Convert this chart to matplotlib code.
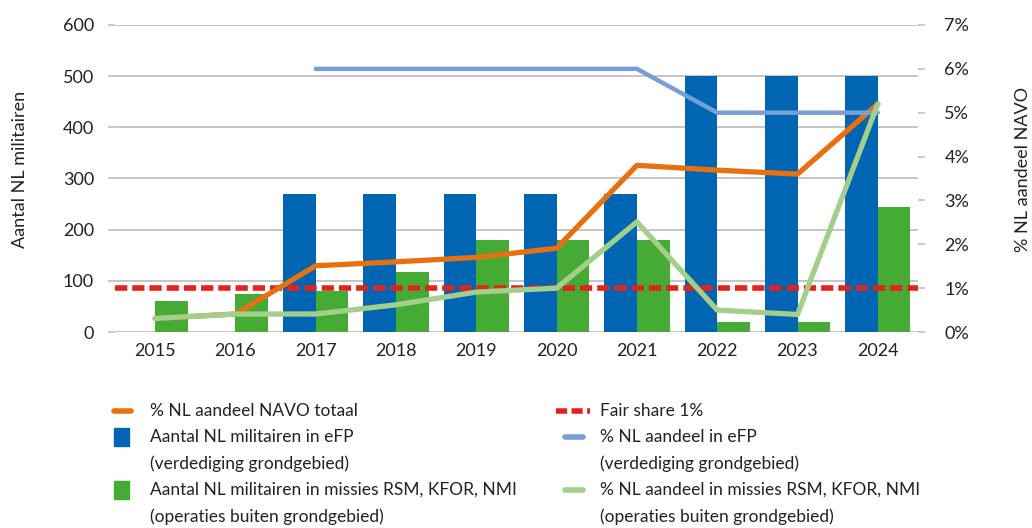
import numpy as np
import matplotlib
matplotlib.use("Agg")
import matplotlib.pyplot as plt
from matplotlib.lines import Line2D
from matplotlib.patches import Rectangle

plt.rcParams['font.family'] = ['Lato', 'DejaVu Sans']

# data
years = ['2015', '2016', '2017', '2018', '2019', '2020', '2021', '2022', '2023', '2024']
efp_troops = [0, 0, 270, 270, 270, 270, 270, 500, 500, 500]
mission_troops = [60, 75, 80, 117, 180, 180, 180, 20, 20, 245]
pct_navo_total = [0.31, 0.41, 1.51, 1.60, 1.70, 1.91, 3.80, 3.69, 3.60, 5.20]
pct_efp = [np.nan, np.nan, 6.0, 6.0, 6.0, 6.0, 6.0, 5.0, 5.0, 5.0]
pct_missions = [0.31, 0.41, 0.41, 0.62, 0.91, 1.0, 2.51, 0.50, 0.40, 5.20]
fair_share = 1.0

c_orange = '#e8700f'
c_blue = '#0066b3'
c_green = '#45ab34'
c_red = '#e3231b'
c_lblue = '#779fd6'
c_lgreen = '#a2cf8a'
c_grid = '#c0c0c0'
c_text = '#222222'

fig = plt.figure(figsize=(10.32, 5.28), dpi=100)
ax = fig.add_axes([0.1114, 0.3712, 0.7781, 0.5815])
ax2 = ax.twinx()

x = np.arange(len(years))
w = 0.407
ax.bar(x - w / 2, efp_troops, w, color=c_blue, zorder=2)
ax.bar(x + w / 2, mission_troops, w, color=c_green, zorder=2)

ax.set_xlim(-0.5, len(years) - 0.5)
ax.set_ylim(0, 600)
ax.set_yticks(range(0, 601, 100))
ax.set_xticks(x)
ax.set_xticklabels(years)
ax.grid(axis='y', color=c_grid, lw=1.3, zorder=0)
ax.set_axisbelow(True)
for s in ax.spines.values():
    s.set_visible(False)
for s in ax2.spines.values():
    s.set_visible(False)
ax.tick_params(axis='y', length=5, width=1.2, color=c_grid, labelsize=13, labelcolor=c_text, pad=10)
ax.tick_params(axis='x', length=0, labelsize=13, labelcolor=c_text, pad=8)

ax2.set_ylim(0, 7)
ax2.set_yticks(range(0, 8))
ax2.set_yticklabels([f'{v}%' for v in range(0, 8)])
ax2.tick_params(axis='y', length=5, width=1.2, color=c_grid, labelsize=13, labelcolor=c_text, pad=14)

ax2.axhline(fair_share, color=c_red, lw=4, dashes=(2.2, 0.9), zorder=3)
ax2.plot(x, pct_navo_total, color=c_orange, lw=3.8, solid_capstyle='round', zorder=4)
ax2.plot(x, pct_efp, color=c_lblue, lw=3.2, solid_capstyle='round', zorder=5)
ax2.plot(x, pct_missions, color=c_lgreen, lw=3.8, solid_capstyle='round', zorder=6)

fig.text(0.019, 0.68, 'Aantal NL militairen', rotation=90, ha='center', va='center',
         fontsize=13, color=c_text)
fig.text(0.991, 0.68, '% NL aandeel NAVO', rotation=90, ha='center', va='center',
         fontsize=13, color=c_text)

# legend, drawn by hand so the handle sits on the first text line
W, H = 1032.0, 528.0
def fx(px):
    return px / W
def fy(py):
    return 1 - py / H

fs = 12.5
col1_text, col2_text = 150, 600
fig.add_artist(Line2D([fx(114), fx(131)], [fy(411)] * 2, color=c_orange, lw=4, solid_capstyle='round'))
fig.text(fx(col1_text), fy(411), '% NL aandeel NAVO totaal', va='center', fontsize=fs, color=c_text)
fig.add_artist(Rectangle((fx(114), fy(446)), fx(15), 18 / H, color=c_blue))
fig.text(fx(col1_text), fy(437), 'Aantal NL militairen in eFP', va='center', fontsize=fs, color=c_text)
fig.text(fx(col1_text), fy(464), '(verdediging grondgebied)', va='center', fontsize=fs, color=c_text)
fig.add_artist(Rectangle((fx(114), fy(499)), fx(15), 18 / H, color=c_green))
fig.text(fx(col1_text), fy(490), 'Aantal NL militairen in missies RSM, KFOR, NMI', va='center', fontsize=fs, color=c_text)
fig.text(fx(col1_text), fy(517), '(operaties buiten grondgebied)', va='center', fontsize=fs, color=c_text)

fig.add_artist(Line2D([fx(556), fx(590)], [fy(411)] * 2, color=c_red, lw=4, dashes=(2.0, 0.8)))
fig.text(fx(col2_text), fy(411), 'Fair share 1%', va='center', fontsize=fs, color=c_text)
fig.add_artist(Line2D([fx(565), fx(583)], [fy(437)] * 2, color=c_lblue, lw=4, solid_capstyle='round'))
fig.text(fx(col2_text), fy(437), '% NL aandeel in eFP', va='center', fontsize=fs, color=c_text)
fig.text(fx(col2_text), fy(464), '(verdediging grondgebied)', va='center', fontsize=fs, color=c_text)
fig.add_artist(Line2D([fx(565), fx(583)], [fy(490)] * 2, color=c_lgreen, lw=4, solid_capstyle='round'))
fig.text(fx(col2_text), fy(490), '% NL aandeel in missies RSM, KFOR, NMI', va='center', fontsize=fs, color=c_text)
fig.text(fx(col2_text), fy(517), '(operaties buiten grondgebied)', va='center', fontsize=fs, color=c_text)

fig.savefig('out.png', dpi=100)
